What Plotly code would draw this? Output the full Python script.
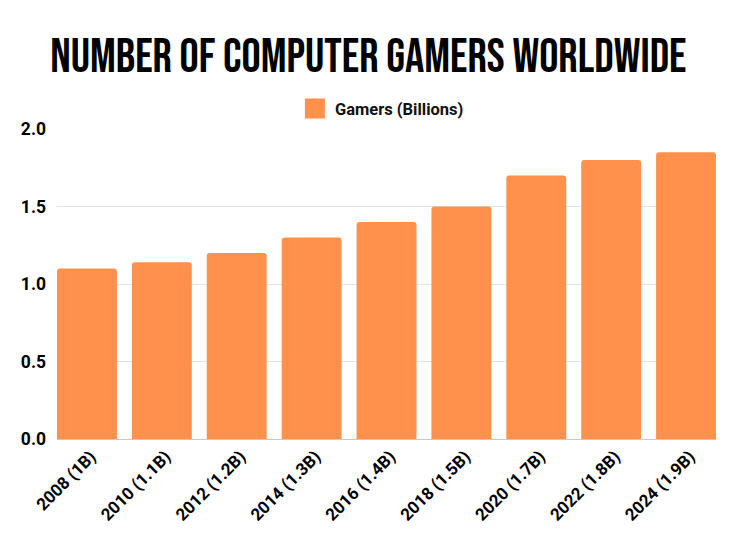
import plotly.graph_objects as go

categories = ["2008 (1B)", "2010 (1.1B)", "2012 (1.2B)", "2014 (1.3B)", "2016 (1.4B)",
              "2018 (1.5B)", "2020 (1.7B)", "2022 (1.8B)", "2024 (1.9B)"]
gamers = [1.10, 1.14, 1.20, 1.30, 1.40, 1.50, 1.70, 1.80, 1.85]
y_ticks = [0.0, 0.5, 1.0, 1.5, 2.0]
y_tick_labels = ["0.0", "0.5", "1.0", "1.5", "2.0"]
series_name = "Gamers (Billions)"

ORANGE = "#FF914D"

fig = go.Figure()
fig.add_trace(go.Bar(
    x=categories, y=gamers, name=series_name,
    marker=dict(color=ORANGE, cornerradius=3, line=dict(width=0)),
    showlegend=False,
))
# legend entry
fig.add_trace(go.Scatter(
    x=[None], y=[None], mode="markers", name=series_name,
    marker=dict(symbol="square", size=16, color=ORANGE, line=dict(width=4, color=ORANGE)),
))

fig.update_layout(
    width=728, height=542,
    margin=dict(l=49, r=20, t=121, b=111),
    paper_bgcolor="white", plot_bgcolor="white",
    bargap=0.2,
    title=dict(
        text="NUMBER OF COMPUTER GAMERS WORLDWIDE",
        x=0.495, xanchor="center", y=0.913, yanchor="middle", yref="container",
        font=dict(family="Bebas Neue, Oswald, Roboto Condensed, Liberation Sans Narrow, DejaVu Sans Condensed, sans-serif",
                  size=48, color="black", weight="normal"),
    ),
    legend=dict(
        orientation="h", x=0.493, xanchor="center", y=1.065, yanchor="middle",
        font=dict(family="Roboto", size=16.5, color="#111", weight="bold"),
        itemwidth=30,
    ),
    xaxis=dict(
        type="category", range=[-0.4, 8.4],
        tickangle=-45,
        tickfont=dict(family="Roboto", size=17, color="black", weight="bold"),
        showgrid=False, showline=True, linecolor="#c8c8c8", linewidth=1,
        ticks="", ticklabelshift=4,
    ),
    yaxis=dict(
        range=[0, 2.0], tickvals=y_ticks, ticktext=y_tick_labels,
        tickfont=dict(family="Roboto", size=17.5, color="black", weight="bold"),
        showgrid=True, gridcolor="#e3e3e3", gridwidth=1,
        zeroline=False, ticks="", ticklabelstandoff=10,
    ),
)

fig.write_html("out.html")
